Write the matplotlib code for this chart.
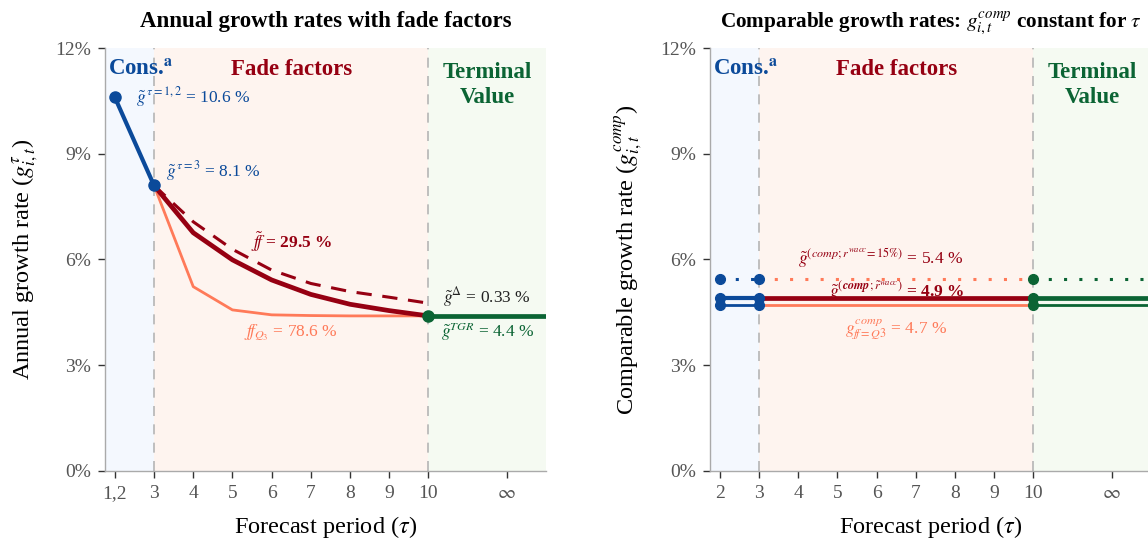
import matplotlib.pyplot as plt
import numpy as np

BLUE, RED, SALMON, GREEN = "#0B4A9A", "#960012", "#FF7A59", "#0B6434"
BG_BLUE, BG_RED, BG_GREEN = "#F4F8FE", "#FEF4EF", "#F5FAF2"
GRAY = "#555555"

plt.rcParams.update({
    "font.family": "serif",
    "font.serif": ["Liberation Serif", "DejaVu Serif"],
    "mathtext.fontset": "stix",
    "axes.edgecolor": "#AAAAAA",
    "axes.linewidth": 1.0,
    "figure.facecolor": "white",
})

# ── Left panel data (growth rates in %) ───────────────────────────────
cons_x = [2, 3]
cons_y = [10.6, 8.1]
fade_x = [3, 4, 5, 6, 7, 8, 9, 10]
ff_y = [8.1, 6.76, 5.99, 5.42, 5.01, 4.73, 4.55, 4.40]
ff_dash_y = [8.1, 7.07, 6.29, 5.70, 5.32, 5.09, 4.93, 4.76]
ffq3_y = [8.1, 5.23, 4.57, 4.43, 4.41, 4.40, 4.40, 4.40]
tgr = 4.4

# ── Right panel data ─────────────────────────────────────────────────
comp_wacc15 = 5.45
comp_wacc = 4.9
comp_q3 = 4.7

x_ticks = [2, 3, 4, 5, 6, 7, 8, 9, 10, 12]
left_ticklabels = ["1,2", "3", "4", "5", "6", "7", "8", "9", "10", r"$\infty$"]
right_ticklabels = ["2", "3", "4", "5", "6", "7", "8", "9", "10", r"$\infty$"]
y_ticks = [0, 3, 6, 9, 12]

XMIN, XMAX = 1.75, 13.0

fig = plt.figure(figsize=(11.48, 5.43), dpi=100)
ax1 = fig.add_axes([0.0915, 0.1326, 0.3841, 0.779])
ax2 = fig.add_axes([0.6185, 0.1326, 0.3841, 0.779])


def style_axis(ax, ticklabels, ylabel, title, title_size):
    ax.axvspan(XMIN, 3, color=BG_BLUE, lw=0, zorder=0)
    ax.axvspan(3, 10, color=BG_RED, lw=0, zorder=0)
    ax.axvspan(10, XMAX, color=BG_GREEN, lw=0, zorder=0)
    for xv in (3, 10):
        ax.axvline(xv, color="#B5B5B5", lw=1.2, ls=(0, (6, 5)), zorder=1)
    ax.set_xlim(XMIN, XMAX)
    ax.set_ylim(0, 12)
    ax.set_xticks(x_ticks)
    ax.set_xticklabels(ticklabels)
    ax.set_yticks(y_ticks)
    ax.set_yticklabels([f"{v}%" for v in y_ticks])
    ax.tick_params(axis="both", labelsize=14, labelcolor=GRAY, color="#333333",
                   length=5, width=1.0, pad=5)
    for s in ("top", "right"):
        ax.spines[s].set_visible(False)
    ax.set_xlabel(r"Forecast period ($\tau$)", fontsize=17.5, labelpad=9)
    ax.set_ylabel(ylabel, fontsize=17.5, labelpad=11)
    ax.set_title(title, fontsize=title_size, fontweight="bold", pad=15)
    ax.text(1.82, 11.4, r"Cons.$^{\mathbf{a}}$", color=BLUE, fontsize=16.5,
            fontweight="bold", ha="left", va="center")
    ax.text(6.5, 11.4, "Fade factors", color=RED, fontsize=16.5,
            fontweight="bold", ha="center", va="center")
    ax.text(11.5, 10.95, "Terminal\nValue", color=GREEN, fontsize=16.5,
            fontweight="bold", ha="center", va="center", linespacing=1.25)


style_axis(ax1, left_ticklabels, r"Annual growth rate ($g_{i,t}^{\tau}$)",
           "Annual growth rates with fade factors", 16.5)
style_axis(ax2, right_ticklabels, r"Comparable growth rate ($g_{i,t}^{comp}$)",
           r"Comparable growth rates: $g_{i,t}^{comp}$ constant for $\tau$", 15.3)

# ── Left panel lines ─────────────────────────────────────────────────
ax1.plot(fade_x, ffq3_y, color=SALMON, lw=2.0, zorder=3)
ax1.plot(fade_x, ff_dash_y, color=RED, lw=2.2, ls=(0, (5, 3.5)), zorder=3)
ax1.plot(fade_x, ff_y, color=RED, lw=3.4, zorder=4)
ax1.plot([10, XMAX], [tgr, tgr], color=GREEN, lw=3.4, zorder=4)
ax1.plot(cons_x, cons_y, color=BLUE, lw=3.0, marker="o", ms=8, zorder=5)
ax1.plot([10], [tgr], color=GREEN, marker="o", ms=8, zorder=6)

ax1.text(2.55, 10.6, r"$\tilde{g}^{\,\tau=1,2}$ = 10.6 %", color=BLUE, fontsize=12.5,
         ha="left", va="center")
ax1.text(3.3, 8.5, r"$\tilde{g}^{\,\tau=3}$ = 8.1 %", color=BLUE, fontsize=12.5,
         ha="left", va="center")
ax1.text(6.5, 6.5, r"$\tilde{f\!f}$ = 29.5 %", color=RED, fontsize=12.5,
         fontweight="bold", ha="center", va="center")
ax1.text(6.5, 3.95, r"$f\!f_{Q_3}$ = 78.6 %", color=SALMON, fontsize=12.5,
         ha="center", va="center")
ax1.text(11.5, 4.95, r"$\tilde{g}^{\Delta}$ = 0.33 %", color="#222222", fontsize=12.5,
         ha="center", va="center")
ax1.text(11.5, 3.95, r"$\tilde{g}^{TGR}$ = 4.4 %", color=GREEN, fontsize=12.5,
         ha="center", va="center")

# ── Right panel lines ────────────────────────────────────────────────
ax2.plot([3, 10], [comp_wacc15] * 2, color=SALMON, lw=2.2, ls=(0, (1, 4)), zorder=3)
ax2.plot([10, XMAX], [comp_wacc15] * 2, color=GREEN, lw=2.2, ls=(0, (1, 4)), zorder=3)
ax2.plot([2, 3], [comp_wacc15] * 2, color=BLUE, lw=2.2, ls=(0, (1, 4)), zorder=3)

ax2.plot([3, 10], [comp_q3] * 2, color=SALMON, lw=2.0, zorder=3)
ax2.plot([10, XMAX], [comp_q3] * 2, color=GREEN, lw=2.0, zorder=3)
ax2.plot([2, 3], [comp_q3] * 2, color=BLUE, lw=2.0, zorder=3)

ax2.plot([3, 10], [comp_wacc] * 2, color=RED, lw=3.4, zorder=4)
ax2.plot([10, XMAX], [comp_wacc] * 2, color=GREEN, lw=3.4, zorder=4)
ax2.plot([2, 3], [comp_wacc] * 2, color=BLUE, lw=3.0, zorder=4)

for yv in (comp_wacc15, comp_wacc, comp_q3):
    ax2.plot([2, 3], [yv, yv], ls="none", marker="o", ms=7, color=BLUE, zorder=6)
    ax2.plot([10], [yv], ls="none", marker="o", ms=7, color=GREEN, zorder=6)

ax2.text(6.1, 6.05, r"$\tilde{g}^{(comp;r^{wacc}\!=15\%)}$ = 5.4 %", color=RED,
         fontsize=12.5, ha="center", va="center")
ax2.text(6.5, 5.1, r"$\tilde{g}^{(\mathbfit{comp};\tilde{r}^{wacc})}$ = 4.9 %", color=RED,
         fontsize=12.5, fontweight="bold", ha="center", va="center")
ax2.text(6.5, 4.0, r"$g_{f\!f=Q3}^{comp}$ = 4.7 %", color=SALMON, fontsize=12.5,
         ha="center", va="center")

plt.savefig("out.png", dpi=100, facecolor="white")
plt.close()
